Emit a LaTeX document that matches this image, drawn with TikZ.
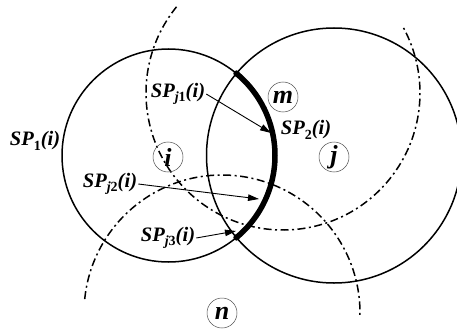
\documentclass[tikz,border=0pt]{standalone}
\usepackage{fontspec}
\setmainfont{Liberation Serif}
\usetikzlibrary{arrows.meta}
\newcommand{\sbs}[1]{\raisebox{-0.2em}{\fontsize{14}{14}\selectfont #1}}
\newcommand{\up}[1]{{\upshape #1}}
\begin{document}
\begin{tikzpicture}[x=1pt,y=-1pt,
  big/.style={line width=1.5pt},
  dd/.style={line width=1.5pt, dash pattern=on 8pt off 3.5pt on 2pt off 3.5pt},
  nd/.style={circle, draw=black!70, line width=0.5pt, minimum size=30pt, inner sep=0pt, font=\fontsize{26}{26}\selectfont\bfseries\itshape},
  lbl/.style={font=\fontsize{20.5}{20.5}\selectfont\bfseries\itshape, inner sep=1pt},
  arr/.style={line width=0.9pt, -{Triangle[length=11pt,width=6.5pt]}}]
\useasboundingbox (0,0) rectangle (457,334);
\clip (0,0) rectangle (457,334);
% centres
\coordinate (cI) at (168.5,155.5);
\coordinate (cJ) at (334,155.5);
\coordinate (cM) at (283,93);
\coordinate (cN) at (222,313);
% solid circles
\draw[big] (cI) circle[radius=106.5];
\draw[big] (cJ) circle[radius=127.5];
% dash-dot arcs
\draw[dd] (cM) ++(219:137) arc[start angle=219, end angle=-28.4, radius=137];
\draw[dd] (cN) ++(185.8:138) arc[start angle=185.8, end angle=361.2, radius=138];
% thick arc
\draw[line width=5.5pt] (cI) ++(-50.3:106.5) coordinate (p1) arc[start angle=-50.3, end angle=50.3, radius=106.5] coordinate (p2);
\fill (p1) circle[radius=3.2];
\fill (p2) circle[radius=3.2];
% nodes
\node[nd] (i) at (168,157) {i};
\node[nd] (j) at (334,157) {j};
\node[nd] (m) at (283,97) {m};
\node[nd] (n) at (222,313) {n};
% labels
\node[lbl] (sp1) at (35,141) {SP\sbs{\up{1}}(i)};
\node[lbl] (sp2) at (306,130) {SP\sbs{\up{2}}(i)};
\node[lbl] (spj1) at (178,94) {SP\sbs{j\up{1}}(i)};
\node[lbl] (spj2) at (110,184) {SP\sbs{j\up{2}}(i)};
\node[lbl] (spj3) at (168,238) {SP\sbs{j\up{3}}(i)};
% arrow targets
\coordinate (t1) at (271,133);
\coordinate (t2) at (259,199);
\coordinate (t3) at (236,231);
\draw[arr] (spj1.east) -- (t1);
\draw[arr] (spj2.east) -- (t2);
\draw[arr] (spj3.east) -- (t3);
\end{tikzpicture}
\end{document}
